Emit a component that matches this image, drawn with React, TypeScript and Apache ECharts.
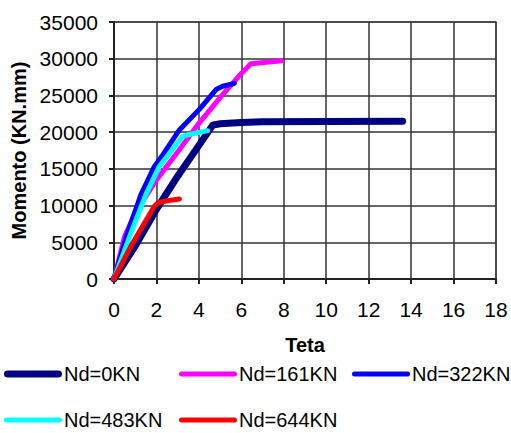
import React, { useEffect, useRef } from "react";
import * as echarts from "echarts";

const seriesNames = ["Nd=0KN", "Nd=161KN", "Nd=322KN", "Nd=483KN", "Nd=644KN"];
const seriesColors = ["#000080", "#FF00FF", "#0000FF", "#00FFFF", "#FF0000"];

const nd0X = [0, 1, 2, 3, 4, 4.65, 5, 6, 7, 10, 13.6];
const nd0Y = [0, 4500, 9500, 14000, 18200, 20950, 21150, 21300, 21400, 21450, 21500];

const nd161X = [0, 0.5, 1, 2, 3, 4, 5, 6, 6.45, 7.9];
const nd161Y = [0, 5800, 9000, 13500, 17300, 21200, 24700, 28000, 29300, 29720];

const nd322X = [0, 0.64, 1.27, 1.9, 2.3, 3.08, 4.02, 4.81, 5.12, 5.67];
const nd322Y = [0, 6300, 11500, 15300, 16900, 20300, 23100, 25800, 26250, 26650];

const nd483X = [0, 0.8, 1.5, 2.13, 3.23, 3.5, 4.41];
const nd483Y = [0, 6300, 11500, 15300, 19400, 19650, 20200];

const nd644X = [0, 0.8, 1.9, 2.06, 2.5, 3.08];
const nd644Y = [0, 4500, 9900, 10350, 10650, 10900];

const xTicks = { min: 0, max: 18, interval: 2 };
const yTicks = { min: 0, max: 35000, interval: 5000 };

const allX = [nd0X, nd161X, nd322X, nd483X, nd644X];
const allY = [nd0Y, nd161Y, nd322Y, nd483Y, nd644Y];
const lineWidths = [7, 5, 5, 5, 5];

const legendPos = [
  { left: 4, top: 364 },
  { left: 179, top: 364 },
  { left: 352, top: 364 },
  { left: 4, top: 410 },
  { left: 179, top: 410 },
];

const FONT = "Liberation Sans";

function iconPath(h: number) {
  const r = h / 2;
  return `path://M${r},0 H${58 - r} A${r},${r} 0 0 1 ${58 - r},${h} H${r} A${r},${r} 0 0 1 ${r},0 Z`;
}

export default function App() {
  const ref = useRef<HTMLDivElement>(null);
  useEffect(() => {
    if (!ref.current) return;
    const chart = echarts.init(ref.current, undefined, { renderer: "svg" });
    const series = seriesNames.map((name, i) => ({
      name,
      type: "line",
      data: allX[i].map((x, k) => [x, allY[i][k]]),
      symbol: "none",
      showSymbol: false,
      lineStyle: { color: seriesColors[i], width: lineWidths[i], cap: "round", join: "round" },
      itemStyle: { color: seriesColors[i] },
      z: 2 + i,
    }));
    const legends = seriesNames.map((name, i) => ({
      data: [name],
      left: legendPos[i].left,
      top: legendPos[i].top,
      padding: 0,
      icon: iconPath(lineWidths[i]),
      itemWidth: 58,
      itemHeight: lineWidths[i],
      selectedMode: false,
      textStyle: { fontFamily: FONT, fontSize: 20, color: "#000", padding: [0, 0, 0, -3] },
      itemStyle: { borderWidth: 0 },
      lineStyle: { width: 0 },
    }));
    chart.setOption({
      animation: false,
      backgroundColor: "#fff",
      textStyle: { fontFamily: FONT },
      grid: { show: true, left: 114, top: 22, width: 382, height: 257, borderColor: "#999", borderWidth: 2, backgroundColor: "transparent" },
      legend: legends,
      xAxis: {
        type: "value",
        min: xTicks.min,
        max: xTicks.max,
        interval: xTicks.interval,
        name: "Teta",
        nameLocation: "middle",
        nameGap: 56,
        nameTextStyle: { fontFamily: FONT, fontSize: 20, fontWeight: "bold", color: "#000" },
        axisLine: { show: true, onZero: false, lineStyle: { color: "#222", width: 2 } },
        axisTick: { show: true, length: 5, lineStyle: { color: "#222", width: 2 } },
        axisLabel: { fontFamily: FONT, fontSize: 21, color: "#000", margin: 20 },
        splitLine: { show: true, lineStyle: { color: "#333", width: 1.5 } },
      },
      yAxis: {
        type: "value",
        min: yTicks.min,
        max: yTicks.max,
        interval: yTicks.interval,
        name: "Momento (KN.mm)",
        nameLocation: "middle",
        nameRotate: 90,
        nameGap: 84,
        nameTextStyle: { fontFamily: FONT, fontSize: 20, fontWeight: "bold", color: "#000" },
        axisLine: { show: true, onZero: false, lineStyle: { color: "#222", width: 2 } },
        axisTick: { show: true, length: 5, lineStyle: { color: "#222", width: 2 } },
        axisLabel: { fontFamily: FONT, fontSize: 21, color: "#000", margin: 16, formatter: (v: number) => String(v) },
        splitLine: { show: true, lineStyle: { color: "#333", width: 1.5 } },
      },
      series,
    });
    return () => chart.dispose();
  }, []);
  return <div ref={ref} style={{ position: "fixed", left: 0, top: 0, width: 511, height: 433 }} />;
}
